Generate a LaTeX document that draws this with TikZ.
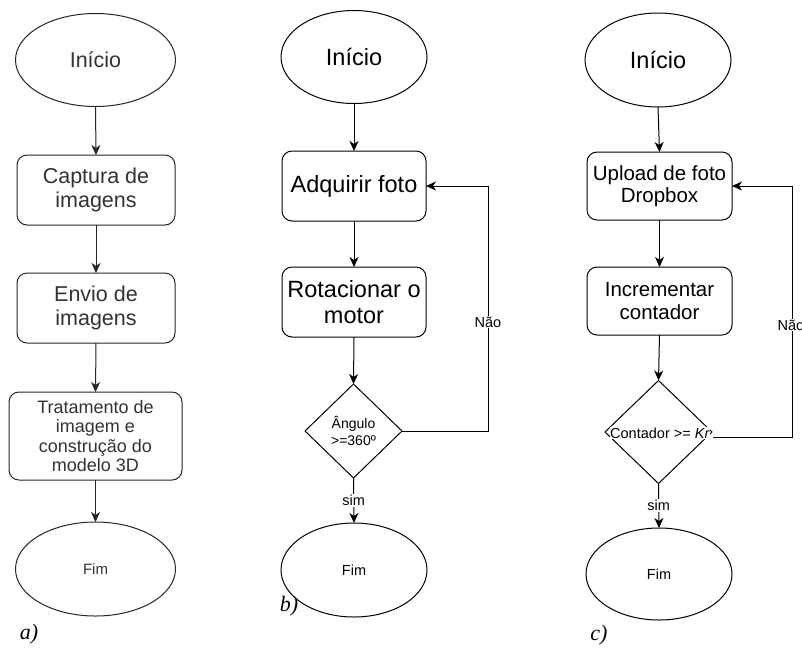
\documentclass[tikz,border=0pt]{standalone}
\usepackage{fontspec}
\setmainfont{Liberation Sans}
\newfontfamily\lblfont{Liberation Serif}
\usetikzlibrary{shapes.geometric,arrows.meta}
\begin{document}
\begin{tikzpicture}[x=1pt,y=-1pt,
  every node/.style={inner sep=0pt,outer sep=0pt},
  tipstyle/.tip={Stealth[length=10pt,width=9pt,inset=3pt]},
  arr/.style={line width=1pt,-{tipstyle}},
  term/.style={draw,ellipse,line width=1pt},
  proc/.style={draw,rectangle,rounded corners=10pt,line width=1pt,align=center},
  dec/.style={draw,diamond,line width=1pt},
  lab/.style={fill=white,inner sep=1pt,font=\fontsize{14.5}{16}\selectfont},
  sub/.style={font=\lblfont\itshape\fontsize{22}{24}\selectfont}
]
\useasboundingbox[fill=white] (0,0) rectangle (802,657);

% ---------- a) ----------
\begin{scope}[black!85, every node/.append style={text=black!80}]
\node[term,minimum width=160pt,minimum height=93pt,font=\fontsize{21.5}{24}\selectfont] (ia) at (95.5,60) {Início};
\node[proc,minimum width=158pt,minimum height=70pt,font=\fontsize{21.5}{24}\selectfont] (ca) at (96,190) {Captura de\\imagens};
\node[proc,minimum width=158pt,minimum height=70pt,font=\fontsize{21.5}{24}\selectfont] (ea) at (96,308) {Envio de\\imagens};
\node[proc,minimum width=173pt,minimum height=88pt,font=\fontsize{18}{19.5}\selectfont] (ta) at (95.5,436) {Tratamento de\\imagem e\\construção do\\modelo 3D};
\node[term,minimum width=160pt,minimum height=94pt,font=\fontsize{15}{17}\selectfont] (fa) at (95.5,569) {Fim};
\draw[arr] (ia.south) -- (ca.north);
\draw[arr] (ca.south) -- (ea.north);
\draw[arr] (ea.south) -- (ta.north);
\draw[arr] (ta.south) -- (fa.north);
\end{scope}

% ---------- b) ----------
\node[term,minimum width=146pt,minimum height=93pt,font=\fontsize{23.5}{26}\selectfont] (ib) at (354,57) {Início};
\node[proc,minimum width=144pt,minimum height=70pt,font=\fontsize{23.5}{26}\selectfont] (ab) at (354,186) {Adquirir foto};
\node[proc,minimum width=144pt,minimum height=70pt,font=\fontsize{23.5}{26}\selectfont] (rb) at (354,302) {Rotacionar o\\motor};
\node[dec,minimum width=97pt,minimum height=94pt] (db) at (353.5,431) {};
\node[align=center,font=\fontsize{14}{16.5}\selectfont] (tdb) at (353.5,431) {Ângulo\\>=360º};
\node[term,minimum width=146pt,minimum height=94pt,font=\fontsize{14.5}{16}\selectfont] (fb) at (354,570) {Fim};
\coordinate (lb) at (488,186);
\draw[arr] (ib.south) -- (ab.north);
\draw[arr] (ab.south) -- (rb.north);
\draw[arr] (rb.south) -- (db.north);
\draw[arr] (db.south) -- node[lab] (sb) {sim} (fb.north);
\draw[arr] (db.east) -| (lb) -- (ab.east);
\node[lab] (nb) at (488,322) {Não};

% ---------- c) ----------
\node[term,minimum width=146pt,minimum height=94pt,font=\fontsize{23.5}{26}\selectfont] (ic) at (658,60) {Início};
\node[proc,minimum width=145pt,minimum height=68pt,font=\fontsize{20.5}{22.5}\selectfont] (uc) at (659.5,186) {Upload de foto\\Dropbox};
\node[proc,minimum width=145pt,minimum height=68pt,font=\fontsize{20.5}{22.5}\selectfont] (kc) at (659.5,301) {Incrementar\\contador};
\node[dec,minimum width=107pt,minimum height=103pt] (dc) at (658.5,432) {};
\node[fill=white,inner sep=0.5pt,font=\fontsize{14.5}{16}\selectfont] (tdc) at (660,433) {Contador >= \textit{Kr}};
\node[term,minimum width=146pt,minimum height=92pt,font=\fontsize{14.5}{16}\selectfont] (fc) at (659,574) {Fim};
\coordinate (lc) at (792,186);
\coordinate (oc) at (713,437);
\draw[arr] (ic.south) -- (uc.north);
\draw[arr] (uc.south) -- (kc.north);
\draw[arr] (kc.south) -- (dc.north);
\draw[arr] (dc.south) -- node[lab] (sc) {sim} (fc.north);
\draw[arr] (oc) -| (lc) -- (uc.east);
\node[lab] (nc) at (791,325) {Não};

% ---------- sub labels ----------
\node[sub] (la) at (29,634) {a)};
\node[sub] (lbb) at (289,606) {b)};
\node[sub] (lcc) at (599,635) {c)};
\end{tikzpicture}
\end{document}
